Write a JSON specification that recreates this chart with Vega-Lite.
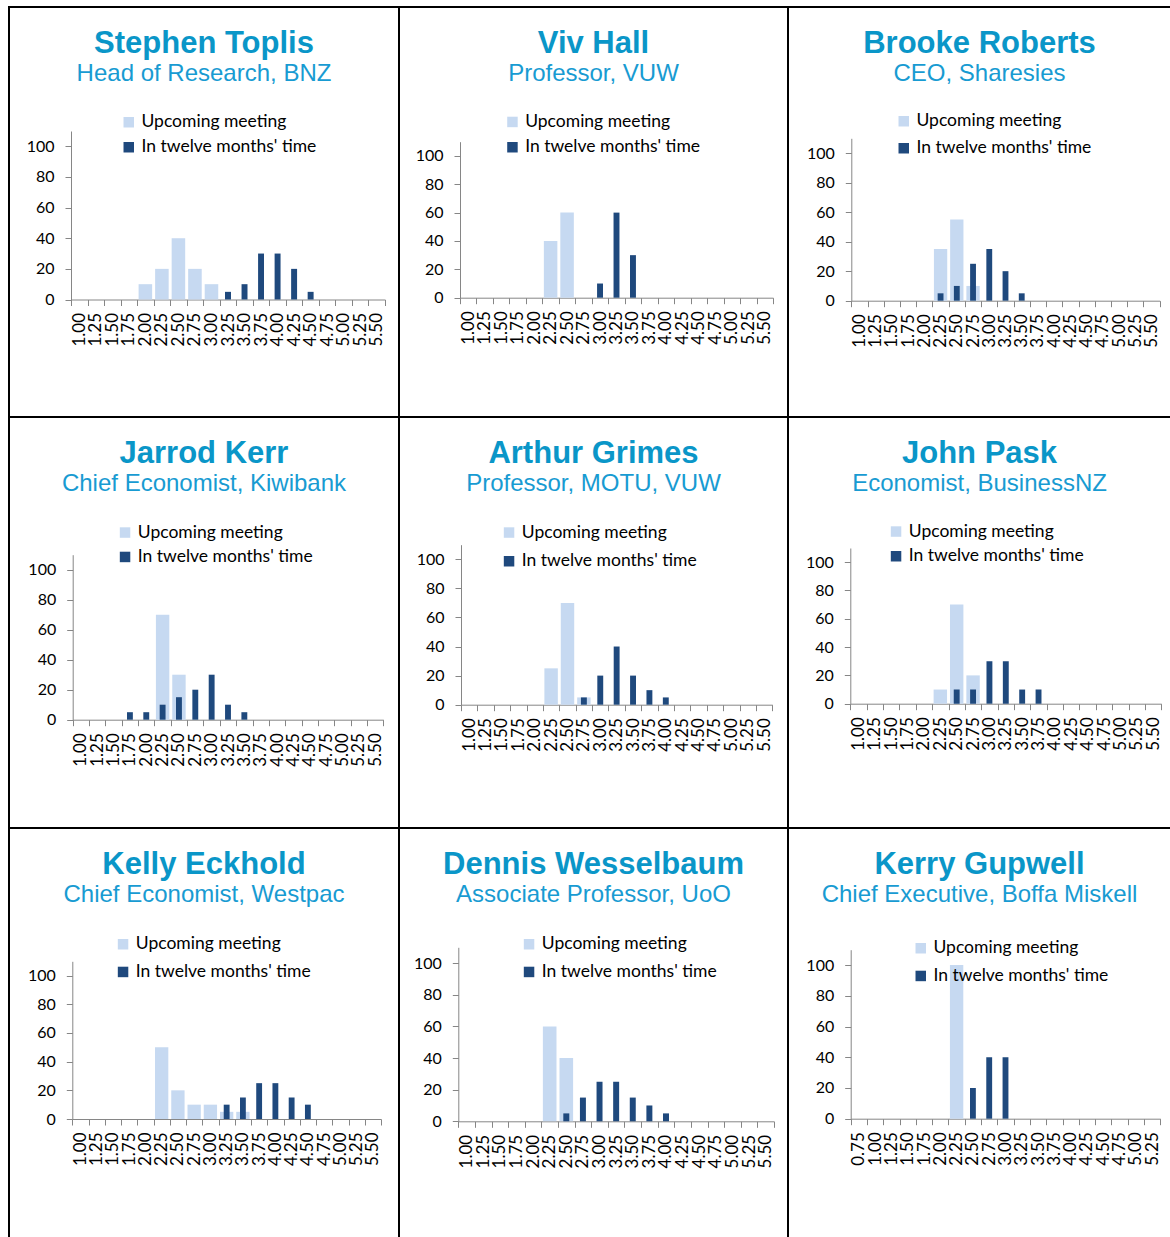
{
  "$schema": "https://vega.github.io/schema/vega-lite/v6.json",
  "padding": {"left": -1, "top": 6, "right": 0, "bottom": 0},
  "background": "#ffffff",
  "datasets": {
    "survey": [
      {"advisor": "Stephen Toplis", "rate": "2.00", "series": "Upcoming meeting", "pct": 10},
      {"advisor": "Stephen Toplis", "rate": "2.25", "series": "Upcoming meeting", "pct": 20},
      {"advisor": "Stephen Toplis", "rate": "2.50", "series": "Upcoming meeting", "pct": 40},
      {"advisor": "Stephen Toplis", "rate": "2.75", "series": "Upcoming meeting", "pct": 20},
      {"advisor": "Stephen Toplis", "rate": "3.00", "series": "Upcoming meeting", "pct": 10},
      {"advisor": "Stephen Toplis", "rate": "3.25", "series": "In twelve months' time", "pct": 5},
      {"advisor": "Stephen Toplis", "rate": "3.50", "series": "In twelve months' time", "pct": 10},
      {"advisor": "Stephen Toplis", "rate": "3.75", "series": "In twelve months' time", "pct": 30},
      {"advisor": "Stephen Toplis", "rate": "4.00", "series": "In twelve months' time", "pct": 30},
      {"advisor": "Stephen Toplis", "rate": "4.25", "series": "In twelve months' time", "pct": 20},
      {"advisor": "Stephen Toplis", "rate": "4.50", "series": "In twelve months' time", "pct": 5},

      {"advisor": "Viv Hall", "rate": "2.25", "series": "Upcoming meeting", "pct": 40},
      {"advisor": "Viv Hall", "rate": "2.50", "series": "Upcoming meeting", "pct": 60},
      {"advisor": "Viv Hall", "rate": "3.00", "series": "In twelve months' time", "pct": 10},
      {"advisor": "Viv Hall", "rate": "3.25", "series": "In twelve months' time", "pct": 60},
      {"advisor": "Viv Hall", "rate": "3.50", "series": "In twelve months' time", "pct": 30},

      {"advisor": "Brooke Roberts", "rate": "2.25", "series": "Upcoming meeting", "pct": 35},
      {"advisor": "Brooke Roberts", "rate": "2.50", "series": "Upcoming meeting", "pct": 55},
      {"advisor": "Brooke Roberts", "rate": "2.75", "series": "Upcoming meeting", "pct": 10},
      {"advisor": "Brooke Roberts", "rate": "2.25", "series": "In twelve months' time", "pct": 5},
      {"advisor": "Brooke Roberts", "rate": "2.50", "series": "In twelve months' time", "pct": 10},
      {"advisor": "Brooke Roberts", "rate": "2.75", "series": "In twelve months' time", "pct": 25},
      {"advisor": "Brooke Roberts", "rate": "3.00", "series": "In twelve months' time", "pct": 35},
      {"advisor": "Brooke Roberts", "rate": "3.25", "series": "In twelve months' time", "pct": 20},
      {"advisor": "Brooke Roberts", "rate": "3.50", "series": "In twelve months' time", "pct": 5},

      {"advisor": "Jarrod Kerr", "rate": "2.25", "series": "Upcoming meeting", "pct": 70},
      {"advisor": "Jarrod Kerr", "rate": "2.50", "series": "Upcoming meeting", "pct": 30},
      {"advisor": "Jarrod Kerr", "rate": "1.75", "series": "In twelve months' time", "pct": 5},
      {"advisor": "Jarrod Kerr", "rate": "2.00", "series": "In twelve months' time", "pct": 5},
      {"advisor": "Jarrod Kerr", "rate": "2.25", "series": "In twelve months' time", "pct": 10},
      {"advisor": "Jarrod Kerr", "rate": "2.50", "series": "In twelve months' time", "pct": 15},
      {"advisor": "Jarrod Kerr", "rate": "2.75", "series": "In twelve months' time", "pct": 20},
      {"advisor": "Jarrod Kerr", "rate": "3.00", "series": "In twelve months' time", "pct": 30},
      {"advisor": "Jarrod Kerr", "rate": "3.25", "series": "In twelve months' time", "pct": 10},
      {"advisor": "Jarrod Kerr", "rate": "3.50", "series": "In twelve months' time", "pct": 5},

      {"advisor": "Arthur Grimes", "rate": "2.25", "series": "Upcoming meeting", "pct": 25},
      {"advisor": "Arthur Grimes", "rate": "2.50", "series": "Upcoming meeting", "pct": 70},
      {"advisor": "Arthur Grimes", "rate": "2.75", "series": "Upcoming meeting", "pct": 5},
      {"advisor": "Arthur Grimes", "rate": "2.75", "series": "In twelve months' time", "pct": 5},
      {"advisor": "Arthur Grimes", "rate": "3.00", "series": "In twelve months' time", "pct": 20},
      {"advisor": "Arthur Grimes", "rate": "3.25", "series": "In twelve months' time", "pct": 40},
      {"advisor": "Arthur Grimes", "rate": "3.50", "series": "In twelve months' time", "pct": 20},
      {"advisor": "Arthur Grimes", "rate": "3.75", "series": "In twelve months' time", "pct": 10},
      {"advisor": "Arthur Grimes", "rate": "4.00", "series": "In twelve months' time", "pct": 5},

      {"advisor": "John Pask", "rate": "2.25", "series": "Upcoming meeting", "pct": 10},
      {"advisor": "John Pask", "rate": "2.50", "series": "Upcoming meeting", "pct": 70},
      {"advisor": "John Pask", "rate": "2.75", "series": "Upcoming meeting", "pct": 20},
      {"advisor": "John Pask", "rate": "2.50", "series": "In twelve months' time", "pct": 10},
      {"advisor": "John Pask", "rate": "2.75", "series": "In twelve months' time", "pct": 10},
      {"advisor": "John Pask", "rate": "3.00", "series": "In twelve months' time", "pct": 30},
      {"advisor": "John Pask", "rate": "3.25", "series": "In twelve months' time", "pct": 30},
      {"advisor": "John Pask", "rate": "3.50", "series": "In twelve months' time", "pct": 10},
      {"advisor": "John Pask", "rate": "3.75", "series": "In twelve months' time", "pct": 10},

      {"advisor": "Kelly Eckhold", "rate": "2.25", "series": "Upcoming meeting", "pct": 50},
      {"advisor": "Kelly Eckhold", "rate": "2.50", "series": "Upcoming meeting", "pct": 20},
      {"advisor": "Kelly Eckhold", "rate": "2.75", "series": "Upcoming meeting", "pct": 10},
      {"advisor": "Kelly Eckhold", "rate": "3.00", "series": "Upcoming meeting", "pct": 10},
      {"advisor": "Kelly Eckhold", "rate": "3.25", "series": "Upcoming meeting", "pct": 5},
      {"advisor": "Kelly Eckhold", "rate": "3.50", "series": "Upcoming meeting", "pct": 5},
      {"advisor": "Kelly Eckhold", "rate": "3.25", "series": "In twelve months' time", "pct": 10},
      {"advisor": "Kelly Eckhold", "rate": "3.50", "series": "In twelve months' time", "pct": 15},
      {"advisor": "Kelly Eckhold", "rate": "3.75", "series": "In twelve months' time", "pct": 25},
      {"advisor": "Kelly Eckhold", "rate": "4.00", "series": "In twelve months' time", "pct": 25},
      {"advisor": "Kelly Eckhold", "rate": "4.25", "series": "In twelve months' time", "pct": 15},
      {"advisor": "Kelly Eckhold", "rate": "4.50", "series": "In twelve months' time", "pct": 10},

      {"advisor": "Dennis Wesselbaum", "rate": "2.25", "series": "Upcoming meeting", "pct": 60},
      {"advisor": "Dennis Wesselbaum", "rate": "2.50", "series": "Upcoming meeting", "pct": 40},
      {"advisor": "Dennis Wesselbaum", "rate": "2.50", "series": "In twelve months' time", "pct": 5},
      {"advisor": "Dennis Wesselbaum", "rate": "2.75", "series": "In twelve months' time", "pct": 15},
      {"advisor": "Dennis Wesselbaum", "rate": "3.00", "series": "In twelve months' time", "pct": 25},
      {"advisor": "Dennis Wesselbaum", "rate": "3.25", "series": "In twelve months' time", "pct": 25},
      {"advisor": "Dennis Wesselbaum", "rate": "3.50", "series": "In twelve months' time", "pct": 15},
      {"advisor": "Dennis Wesselbaum", "rate": "3.75", "series": "In twelve months' time", "pct": 10},
      {"advisor": "Dennis Wesselbaum", "rate": "4.00", "series": "In twelve months' time", "pct": 5},

      {"advisor": "Kerry Gupwell", "rate": "2.25", "series": "Upcoming meeting", "pct": 100},
      {"advisor": "Kerry Gupwell", "rate": "2.50", "series": "In twelve months' time", "pct": 20},
      {"advisor": "Kerry Gupwell", "rate": "2.75", "series": "In twelve months' time", "pct": 40},
      {"advisor": "Kerry Gupwell", "rate": "3.00", "series": "In twelve months' time", "pct": 40}
    ]
  },
  "data": {"name": "survey"},
  "columns": 3,
  "spacing": 0,
  "bounds": "flush",
  "resolve": {"legend": {"color": "independent"}},
  "concat": [
    {
      "width": 390, "height": 410,
      "title": {"text": "Stephen Toplis", "subtitle": "Head of Research, BNZ"},
      "transform": [{"filter": "datum.advisor === 'Stephen Toplis'"}],
      "encoding": {
        "x": {"field": "rate", "type": "ordinal", "title": null,
              "scale": {"domain": ["1.00","1.25","1.50","1.75","2.00","2.25","2.50","2.75","3.00","3.25","3.50","3.75","4.00","4.25","4.50","4.75","5.00","5.25","5.50"], "range": [62, 376], "paddingInner": 0, "paddingOuter": 0},
              "axis": {"offset": -117.5}},
        "y": {"field": "pct", "type": "quantitative", "title": null,
              "scale": {"domain": [0, 110], "nice": false, "range": [292.5, 124]},
              "axis": {"offset": -62, "values": [0, 20, 40, 60, 80, 100]}},
        "color": {"field": "series", "type": "nominal",
                  "scale": {"domain": ["Upcoming meeting", "In twelve months' time"], "range": ["#C6D9F1", "#1F497D"]},
                  "legend": {"legendX": 111, "legendY": 106.5, "rowPadding": 6}}
      },
      "layer": [
        {"transform": [{"filter": "datum.series === 'Upcoming meeting'"}], "mark": {"type": "bar", "width": {"band": 0.82}}},
        {"transform": [{"filter": "datum.series !== 'Upcoming meeting'"}], "mark": {"type": "bar", "width": {"band": 0.36}}}
      ]
    },
    {
      "width": 389, "height": 410,
      "title": {"text": "Viv Hall", "subtitle": "Professor, VUW"},
      "transform": [{"filter": "datum.advisor === 'Viv Hall'"}],
      "encoding": {
        "x": {"field": "rate", "type": "ordinal", "title": null,
              "scale": {"domain": ["1.00","1.25","1.50","1.75","2.00","2.25","2.50","2.75","3.00","3.25","3.50","3.75","4.00","4.25","4.50","4.75","5.00","5.25","5.50"], "range": [61, 374], "paddingInner": 0, "paddingOuter": 0},
              "axis": {"offset": -119.3}},
        "y": {"field": "pct", "type": "quantitative", "title": null,
              "scale": {"domain": [0, 110], "nice": false, "range": [290.7, 134.7]},
              "axis": {"offset": -61, "values": [0, 20, 40, 60, 80, 100]}},
        "color": {"field": "series", "type": "nominal",
                  "scale": {"domain": ["Upcoming meeting", "In twelve months' time"], "range": ["#C6D9F1", "#1F497D"]},
                  "legend": {"legendX": 104.7, "legendY": 106.2, "rowPadding": 6.3}}
      },
      "layer": [
        {"transform": [{"filter": "datum.series === 'Upcoming meeting'"}], "mark": {"type": "bar", "width": {"band": 0.82}}},
        {"transform": [{"filter": "datum.series !== 'Upcoming meeting'"}], "mark": {"type": "bar", "width": {"band": 0.36}}}
      ]
    },
    {
      "width": 383, "height": 410,
      "title": {"text": "Brooke Roberts", "subtitle": "CEO, Sharesies"},
      "transform": [{"filter": "datum.advisor === 'Brooke Roberts'"}],
      "encoding": {
        "x": {"field": "rate", "type": "ordinal", "title": null,
              "scale": {"domain": ["1.00","1.25","1.50","1.75","2.00","2.25","2.50","2.75","3.00","3.25","3.50","3.75","4.00","4.25","4.50","4.75","5.00","5.25","5.50"], "range": [63.3, 371.7], "paddingInner": 0, "paddingOuter": 0},
              "axis": {"offset": -116.3}},
        "y": {"field": "pct", "type": "quantitative", "title": null,
              "scale": {"domain": [0, 110], "nice": false, "range": [293.7, 131.3]},
              "axis": {"offset": -63.3, "values": [0, 20, 40, 60, 80, 100]}},
        "color": {"field": "series", "type": "nominal",
                  "scale": {"domain": ["Upcoming meeting", "In twelve months' time"], "range": ["#C6D9F1", "#1F497D"]},
                  "legend": {"legendX": 107, "legendY": 105.5, "rowPadding": 8}}
      },
      "layer": [
        {"transform": [{"filter": "datum.series === 'Upcoming meeting'"}], "mark": {"type": "bar", "width": {"band": 0.82}}},
        {"transform": [{"filter": "datum.series !== 'Upcoming meeting'"}], "mark": {"type": "bar", "width": {"band": 0.36}}}
      ]
    },
    {
      "width": 390, "height": 411,
      "title": {"text": "Jarrod Kerr", "subtitle": "Chief Economist, Kiwibank"},
      "transform": [{"filter": "datum.advisor === 'Jarrod Kerr'"}],
      "encoding": {
        "x": {"field": "rate", "type": "ordinal", "title": null,
              "scale": {"domain": ["1.00","1.25","1.50","1.75","2.00","2.25","2.50","2.75","3.00","3.25","3.50","3.75","4.00","4.25","4.50","4.75","5.00","5.25","5.50"], "range": [63.7, 374.3], "paddingInner": 0, "paddingOuter": 0},
              "axis": {"offset": -108.3}},
        "y": {"field": "pct", "type": "quantitative", "title": null,
              "scale": {"domain": [0, 110], "nice": false, "range": [302.7, 137.7]},
              "axis": {"offset": -63.7, "values": [0, 20, 40, 60, 80, 100]}},
        "color": {"field": "series", "type": "nominal",
                  "scale": {"domain": ["Upcoming meeting", "In twelve months' time"], "range": ["#C6D9F1", "#1F497D"]},
                  "legend": {"legendX": 107.3, "legendY": 106.8, "rowPadding": 5.4}}
      },
      "layer": [
        {"transform": [{"filter": "datum.series === 'Upcoming meeting'"}], "mark": {"type": "bar", "width": {"band": 0.82}}},
        {"transform": [{"filter": "datum.series !== 'Upcoming meeting'"}], "mark": {"type": "bar", "width": {"band": 0.36}}}
      ]
    },
    {
      "width": 389, "height": 411,
      "title": {"text": "Arthur Grimes", "subtitle": "Professor, MOTU, VUW"},
      "transform": [{"filter": "datum.advisor === 'Arthur Grimes'"}],
      "encoding": {
        "x": {"field": "rate", "type": "ordinal", "title": null,
              "scale": {"domain": ["1.00","1.25","1.50","1.75","2.00","2.25","2.50","2.75","3.00","3.25","3.50","3.75","4.00","4.25","4.50","4.75","5.00","5.25","5.50"], "range": [62, 373.3], "paddingInner": 0, "paddingOuter": 0},
              "axis": {"offset": -123.3}},
        "y": {"field": "pct", "type": "quantitative", "title": null,
              "scale": {"domain": [0, 110], "nice": false, "range": [287.7, 127.7]},
              "axis": {"offset": -62, "values": [0, 20, 40, 60, 80, 100]}},
        "color": {"field": "series", "type": "nominal",
                  "scale": {"domain": ["Upcoming meeting", "In twelve months' time"], "range": ["#C6D9F1", "#1F497D"]},
                  "legend": {"legendX": 101.3, "legendY": 106.8, "rowPadding": 9.7}}
      },
      "layer": [
        {"transform": [{"filter": "datum.series === 'Upcoming meeting'"}], "mark": {"type": "bar", "width": {"band": 0.82}}},
        {"transform": [{"filter": "datum.series !== 'Upcoming meeting'"}], "mark": {"type": "bar", "width": {"band": 0.36}}}
      ]
    },
    {
      "width": 383, "height": 411,
      "title": {"text": "John Pask", "subtitle": "Economist, BusinessNZ"},
      "transform": [{"filter": "datum.advisor === 'John Pask'"}],
      "encoding": {
        "x": {"field": "rate", "type": "ordinal", "title": null,
              "scale": {"domain": ["1.00","1.25","1.50","1.75","2.00","2.25","2.50","2.75","3.00","3.25","3.50","3.75","4.00","4.25","4.50","4.75","5.00","5.25","5.50"], "range": [62.3, 373.3], "paddingInner": 0, "paddingOuter": 0},
              "axis": {"offset": -124.3}},
        "y": {"field": "pct", "type": "quantitative", "title": null,
              "scale": {"domain": [0, 110], "nice": false, "range": [286.7, 131]},
              "axis": {"offset": -62.3, "values": [0, 20, 40, 60, 80, 100]}},
        "color": {"field": "series", "type": "nominal",
                  "scale": {"domain": ["Upcoming meeting", "In twelve months' time"], "range": ["#C6D9F1", "#1F497D"]},
                  "legend": {"legendX": 99.3, "legendY": 105.8, "rowPadding": 5.7}}
      },
      "layer": [
        {"transform": [{"filter": "datum.series === 'Upcoming meeting'"}], "mark": {"type": "bar", "width": {"band": 0.82}}},
        {"transform": [{"filter": "datum.series !== 'Upcoming meeting'"}], "mark": {"type": "bar", "width": {"band": 0.36}}}
      ]
    },
    {
      "width": 390, "height": 411,
      "title": {"text": "Kelly Eckhold", "subtitle": "Chief Economist, Westpac"},
      "transform": [{"filter": "datum.advisor === 'Kelly Eckhold'"}],
      "encoding": {
        "x": {"field": "rate", "type": "ordinal", "title": null,
              "scale": {"domain": ["1.00","1.25","1.50","1.75","2.00","2.25","2.50","2.75","3.00","3.25","3.50","3.75","4.00","4.25","4.50","4.75","5.00","5.25","5.50"], "range": [63.3, 372], "paddingInner": 0, "paddingOuter": 0},
              "axis": {"offset": -120}},
        "y": {"field": "pct", "type": "quantitative", "title": null,
              "scale": {"domain": [0, 110], "nice": false, "range": [291, 133.3]},
              "axis": {"offset": -63.3, "values": [0, 20, 40, 60, 80, 100]}},
        "color": {"field": "series", "type": "nominal",
                  "scale": {"domain": ["Upcoming meeting", "In twelve months' time"], "range": ["#C6D9F1", "#1F497D"]},
                  "legend": {"legendX": 105.3, "legendY": 107.5, "rowPadding": 8.7}}
      },
      "layer": [
        {"transform": [{"filter": "datum.series === 'Upcoming meeting'"}], "mark": {"type": "bar", "width": {"band": 0.82}}},
        {"transform": [{"filter": "datum.series !== 'Upcoming meeting'"}], "mark": {"type": "bar", "width": {"band": 0.36}}}
      ]
    },
    {
      "width": 389, "height": 411,
      "title": {"text": "Dennis Wesselbaum", "subtitle": "Associate Professor, UoO"},
      "transform": [{"filter": "datum.advisor === 'Dennis Wesselbaum'"}],
      "encoding": {
        "x": {"field": "rate", "type": "ordinal", "title": null,
              "scale": {"domain": ["1.00","1.25","1.50","1.75","2.00","2.25","2.50","2.75","3.00","3.25","3.50","3.75","4.00","4.25","4.50","4.75","5.00","5.25","5.50"], "range": [59.3, 375], "paddingInner": 0, "paddingOuter": 0},
              "axis": {"offset": -117.7}},
        "y": {"field": "pct", "type": "quantitative", "title": null,
              "scale": {"domain": [0, 110], "nice": false, "range": [293.3, 119.3]},
              "axis": {"offset": -59.3, "values": [0, 20, 40, 60, 80, 100]}},
        "color": {"field": "series", "type": "nominal",
                  "scale": {"domain": ["Upcoming meeting", "In twelve months' time"], "range": ["#C6D9F1", "#1F497D"]},
                  "legend": {"legendX": 121.3, "legendY": 107.5, "rowPadding": 8.7}}
      },
      "layer": [
        {"transform": [{"filter": "datum.series === 'Upcoming meeting'"}], "mark": {"type": "bar", "width": {"band": 0.82}}},
        {"transform": [{"filter": "datum.series !== 'Upcoming meeting'"}], "mark": {"type": "bar", "width": {"band": 0.36}}}
      ]
    },
    {
      "width": 383, "height": 411,
      "title": {"text": "Kerry Gupwell", "subtitle": "Chief Executive, Boffa Miskell"},
      "transform": [{"filter": "datum.advisor === 'Kerry Gupwell'"}],
      "encoding": {
        "x": {"field": "rate", "type": "ordinal", "title": null,
              "scale": {"domain": ["0.75","1.00","1.25","1.50","1.75","2.00","2.25","2.50","2.75","3.00","3.25","3.50","3.75","4.00","4.25","4.50","4.75","5.00","5.25"], "range": [62.7, 372.3], "paddingInner": 0, "paddingOuter": 0},
              "axis": {"offset": -120.3}},
        "y": {"field": "pct", "type": "quantitative", "title": null,
              "scale": {"domain": [0, 110], "nice": false, "range": [290.7, 121.7]},
              "axis": {"offset": -62.7, "values": [0, 20, 40, 60, 80, 100]}},
        "color": {"field": "series", "type": "nominal",
                  "scale": {"domain": ["Upcoming meeting", "In twelve months' time"], "range": ["#C6D9F1", "#1F497D"]},
                  "legend": {"legendX": 124, "legendY": 111.5, "rowPadding": 8.7}}
      },
      "layer": [
        {"transform": [{"filter": "datum.series === 'Upcoming meeting'"}], "mark": {"type": "bar", "width": {"band": 0.82}}},
        {"transform": [{"filter": "datum.series !== 'Upcoming meeting'"}], "mark": {"type": "bar", "width": {"band": 0.36}}}
      ]
    }
  ],
  "config": {
    "view": {"stroke": "#000000", "strokeWidth": 2},
    "title": {
      "anchor": "middle", "frame": "group", "offset": -80,
      "font": "Liberation Sans", "fontSize": 31, "fontWeight": "bold", "color": "#0A96C8",
      "subtitleFont": "Liberation Sans", "subtitleFontSize": 24, "subtitleFontWeight": "normal", "subtitleColor": "#189BD2",
      "subtitlePadding": 2
    },
    "axis": {
      "domainColor": "#868686", "domainWidth": 1, "tickColor": "#868686", "tickWidth": 1, "tickSize": 6,
      "labelFont": "Lato", "labelFontSize": 16, "labelColor": "#000000", "grid": false, "labelOverlap": false
    },
    "axisX": {"tickBand": "extent", "labelAngle": -90, "labelPadding": 7, "labelFontSize": 17},
    "axisY": {"labelPadding": 11},
    "legend": {
      "orient": "none", "title": null, "symbolType": "square", "symbolSize": 110, "symbolStrokeWidth": 0,
      "labelFont": "Lato", "labelFontSize": 17.5, "labelColor": "#000000", "labelOffset": 4, "padding": 0, "labelLimit": 400
    }
  }
}
